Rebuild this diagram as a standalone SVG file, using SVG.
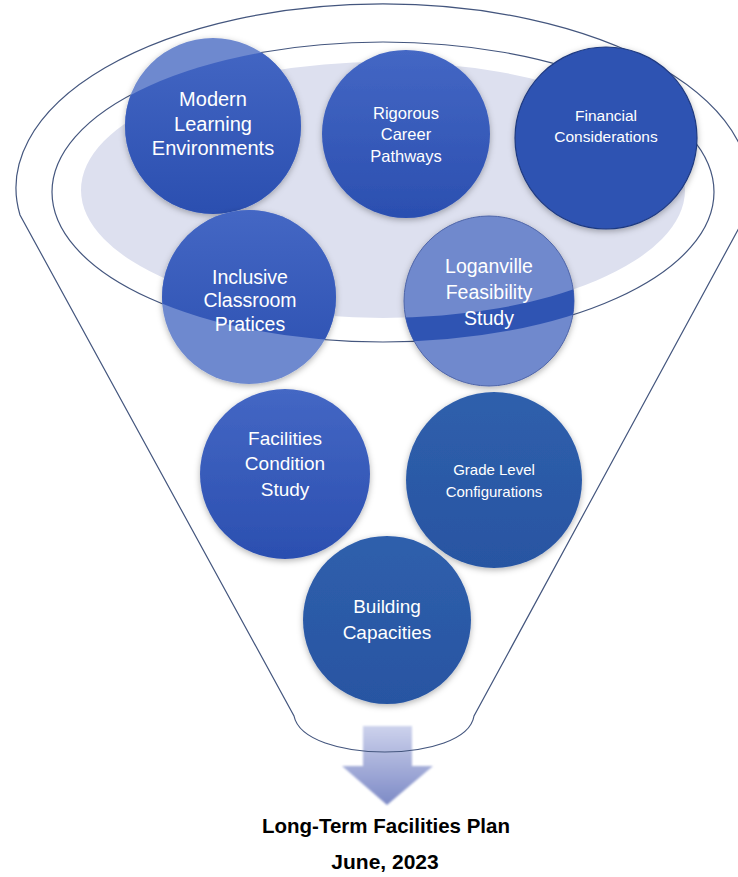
<svg xmlns="http://www.w3.org/2000/svg" width="738" height="877" viewBox="0 0 738 877">
<style>
.line{fill:none;stroke:#44567e;stroke-width:1.2}
.t{font-family:"Liberation Sans",Arial,sans-serif;fill:#ffffff;text-anchor:middle}
.cap{font-family:"Liberation Sans",Arial,sans-serif;fill:#000000;text-anchor:middle;font-weight:bold}
.dark{fill:url(#gDark)}
.light{fill:#6e89cf}
</style>
<defs>
<linearGradient id="gDark" x1="0" y1="0" x2="0" y2="1">
<stop offset="0" stop-color="#4467c4"/>
<stop offset="1" stop-color="#2b4fb0"/>
</linearGradient>
<linearGradient id="gTeal" x1="0" y1="0" x2="0" y2="1">
<stop offset="0" stop-color="#2f5fac"/>
<stop offset="1" stop-color="#2855a2"/>
</linearGradient>
<linearGradient id="gArrow" x1="0" y1="0" x2="0" y2="1">
<stop offset="0" stop-color="#cdd2ec"/>
<stop offset="1" stop-color="#7d8ac6"/>
</linearGradient>
<filter id="sh" x="-20%" y="-20%" width="140%" height="140%">
<feDropShadow dx="0" dy="2" stdDeviation="3" flood-color="#000" flood-opacity="0.3"/>
</filter>
<filter id="soft" x="-20%" y="-20%" width="140%" height="140%">
<feGaussianBlur stdDeviation="1.2"/>
</filter>
<clipPath id="inInner"><ellipse cx="383" cy="192" rx="331" ry="150"/></clipPath>
<clipPath id="outShade"><path clip-rule="evenodd" d="M0,0H738V877H0Z M81,190 A302,128 0 1 0 685,190 A302,128 0 1 0 81,190Z"/></clipPath>
</defs>

<ellipse id="rim-shading" cx="383" cy="190" rx="302" ry="128" fill="#dde0ef"/>

<g id="arrow">
<path d="M363,726 H412 V766 H433 L387,805 L342,766 H363 Z" fill="url(#gArrow)" filter="url(#soft)"/>
</g>

<g id="connectors">
<path id="funnel" class="line" d="M20,215 A367,184 0 1 1 746,215 L474,716 C466,764 304,764 294,716 Z"/>
<ellipse id="rim" class="line" cx="383" cy="192" rx="331" ry="150"/>
</g>

<g id="modern">
<circle cx="213" cy="126" r="88" class="light" filter="url(#sh)"/>
<circle cx="213" cy="126" r="88" class="dark" clip-path="url(#inInner)"/>
<text class="t" font-size="20" x="213" y="106">Modern</text>
<text class="t" font-size="20" x="213" y="131">Learning</text>
<text class="t" font-size="20" x="213" y="155">Environments</text>
</g>

<g id="rigorous">
<circle cx="406" cy="134" r="84" class="dark" filter="url(#sh)"/>
<text class="t" font-size="16.5" x="406" y="119">Rigorous</text>
<text class="t" font-size="16.5" x="406" y="140">Career</text>
<text class="t" font-size="16.5" x="406" y="162">Pathways</text>
</g>

<g id="financial">
<circle cx="606" cy="138" r="91" fill="#2f53b2" stroke="#1f3a80" stroke-width="1.2" filter="url(#sh)"/>
<text class="t" font-size="15.5" x="606" y="121">Financial</text>
<text class="t" font-size="15.5" x="606" y="142">Considerations</text>
</g>

<g id="inclusive">
<circle cx="249" cy="297" r="87" class="light" filter="url(#sh)"/>
<circle cx="249" cy="297" r="87" class="dark" clip-path="url(#inInner)"/>
<text class="t" font-size="19.5" x="250" y="284">Inclusive</text>
<text class="t" font-size="19.5" x="250" y="307">Classroom</text>
<text class="t" font-size="19.5" x="250" y="331">Pratices</text>
</g>

<g id="loganville">
<circle cx="489" cy="301" r="85" fill="#7089cd" stroke="#4d64a8" stroke-width="1" filter="url(#sh)"/>
<g clip-path="url(#inInner)">
<circle cx="489" cy="301" r="85" fill="#2f54b3" clip-path="url(#outShade)"/>
</g>
<text class="t" font-size="19.5" x="489" y="273" fill="#eef1f9">Loganville</text>
<text class="t" font-size="19.5" x="489" y="299" fill="#eef1f9">Feasibility</text>
<text class="t" font-size="19.5" x="489" y="325" fill="#eef1f9">Study</text>
</g>

<g id="facilities">
<circle cx="285" cy="474" r="85" class="dark" filter="url(#sh)"/>
<text class="t" font-size="19" x="285" y="445">Facilities</text>
<text class="t" font-size="19" x="285" y="470">Condition</text>
<text class="t" font-size="19" x="285" y="496">Study</text>
</g>

<g id="grade">
<circle cx="494" cy="480" r="88" fill="url(#gTeal)" filter="url(#sh)"/>
<text class="t" font-size="15" x="494" y="475">Grade Level</text>
<text class="t" font-size="15" x="494" y="497">Configurations</text>
</g>

<g id="building">
<circle cx="387" cy="620" r="84" fill="url(#gTeal)" filter="url(#sh)"/>
<text class="t" font-size="19" x="387" y="613">Building</text>
<text class="t" font-size="19" x="387" y="639">Capacities</text>
</g>

<text class="cap" font-size="20.5" x="386" y="833">Long-Term Facilities Plan</text>
<text class="cap" font-size="21" x="385" y="869">June, 2023</text>
</svg>
